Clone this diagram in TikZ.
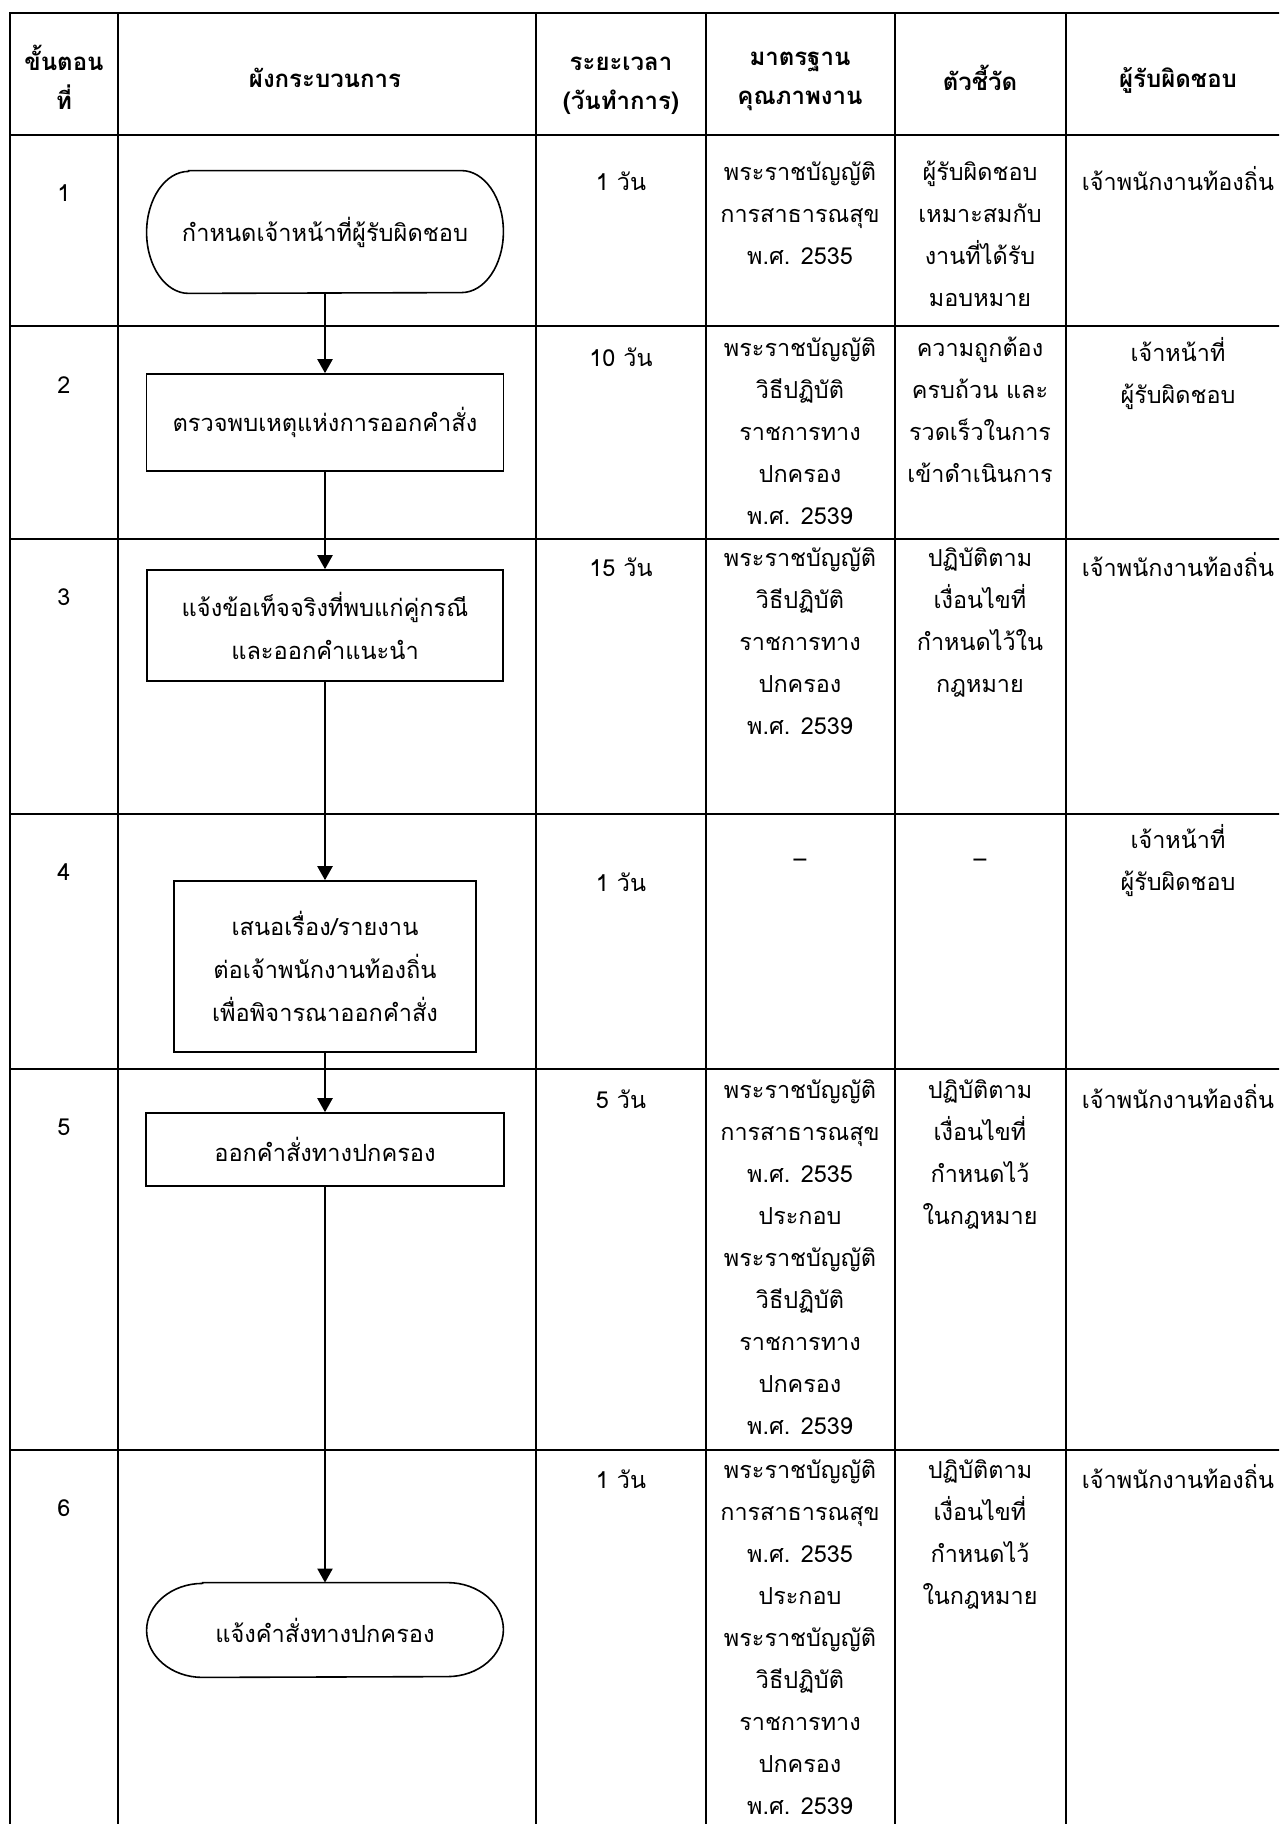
\documentclass[tikz,border=0pt]{standalone}
\usepackage{fontspec}
\setmainfont[Script=Thai]{Loma}
\usetikzlibrary{arrows.meta}

\newcommand{\cellfont}{\fontsize{11.7}{21}\selectfont}
\newcommand{\headfont}{\fontsize{12}{19.5}\selectfont\bfseries}
\newcommand{\boxfont}{\fontsize{11.8}{21.5}\selectfont}

\begin{document}
\begin{tikzpicture}[x=0.5pt,y=-0.5pt,
    grid/.style={line width=1pt},
    head/.style={align=center,inner sep=0pt,font=\headfont},
    cell/.style={anchor=north,align=center,inner sep=0pt,font=\cellfont,execute at begin node=\strut},
    num/.style={inner sep=0pt,font=\cellfont},
    stepbox/.style={draw,line width=0.8pt,inner sep=0pt,align=center,font=\boxfont},
    terminal/.style={inner sep=0pt,align=center,font=\boxfont},
    outline/.style={line width=0.8pt},
    flow/.style={line width=1.1pt,-{Triangle[length=7pt,width=7.5pt]}}]

    % 枠
    \useasboundingbox (0,0) rectangle (1279,1824);
    \clip (0,0) rectangle (1279,1824);

    % パラメータの定義
    \pgfmathsetmacro{\cA}{64}
    \pgfmathsetmacro{\cB}{325}
    \pgfmathsetmacro{\cC}{621}
    \pgfmathsetmacro{\cD}{800}
    \pgfmathsetmacro{\cE}{980}
    \pgfmathsetmacro{\cF}{1178}

    % 表の罫線
    \draw [grid] (10,13) rectangle (1290,1830);
    \foreach \x in {118,536,706,895,1066}
        \draw [grid] (\x,13) -- (\x,1830);
    \foreach \y in {135,326,539,814,1069,1450}
        \draw [grid] (10,\y) -- (1290,\y);

    % 見出し
    \node [head] (h1) at (\cA,77.5) {ขั้นตอน\\ที่};
    \node [head] (h2) at (\cB,78) {ผังกระบวนการ};
    \node [head] (h3) at (\cC,86) {ระยะเวลา\\(วันทำการ)};
    \node [head] (h4) at (\cD,81.5) {มาตรฐาน\\คุณภาพงาน};
    \node [head] (h5) at (\cE,78) {ตัวชี้วัด};
    \node [head] (h6) at (\cF,80) {ผู้รับผิดชอบ};

    % 番号
    \foreach \n/\y in {1/193,2/385,3/597,4/872,5/1127,6/1508}
        \node [num] (n\n) at (\cA,\y) {\n};

    % 1
    \node [cell] (r1c) at (\cC,161) {1 วัน};
    \node [cell] (r1d) at (\cD,161) {พระราชบัญญัติ\\การสาธารณสุข\\พ.ศ. 2535};
    \node [cell] (r1e) at (\cE,161) {ผู้รับผิดชอบ\\เหมาะสมกับ\\งานที่ได้รับ\\มอบหมาย};
    \node [cell] (r1f) at (\cF,161) {เจ้าพนักงานท้องถิ่น};

    % 2
    \node [cell] (r2c) at (\cC,337) {10 วัน};
    \node [cell] (r2d) at (\cD,337) {พระราชบัญญัติ\\วิธีปฏิบัติ\\ราชการทาง\\ปกครอง\\พ.ศ. 2539};
    \node [cell] (r2e) at (\cE,337) {ความถูกต้อง\\ครบถ้วน และ\\รวดเร็วในการ\\เข้าดำเนินการ};
    \node [cell] (r2f) at (\cF,337) {เจ้าหน้าที่\\ผู้รับผิดชอบ};

    % 3
    \node [cell] (r3c) at (\cC,547) {15 วัน};
    \node [cell] (r3d) at (\cD,547) {พระราชบัญญัติ\\วิธีปฏิบัติ\\ราชการทาง\\ปกครอง\\พ.ศ. 2539};
    \node [cell] (r3e) at (\cE,547) {ปฏิบัติตาม\\เงื่อนไขที่\\กำหนดไว้ใน\\กฎหมาย};
    \node [cell] (r3f) at (\cF,547) {เจ้าพนักงานท้องถิ่น};

    % 4
    \node [cell] (r4c) at (\cC,862) {1 วัน};
    \node [num] (r4d) at (\cD,863) {–};
    \node [num] (r4e) at (\cE,863) {–};
    \node [cell] (r4f) at (\cF,824) {เจ้าหน้าที่\\ผู้รับผิดชอบ};

    % 5
    \node [cell] (r5c) at (\cC,1079) {5 วัน};
    \node [cell] (r5d) at (\cD,1079) {พระราชบัญญัติ\\การสาธารณสุข\\พ.ศ. 2535\\ประกอบ\\พระราชบัญญัติ\\วิธีปฏิบัติ\\ราชการทาง\\ปกครอง\\พ.ศ. 2539};
    \node [cell] (r5e) at (\cE,1079) {ปฏิบัติตาม\\เงื่อนไขที่\\กำหนดไว้\\ในกฎหมาย};
    \node [cell] (r5f) at (\cF,1079) {เจ้าพนักงานท้องถิ่น};

    % 6
    \node [cell] (r6c) at (\cC,1459) {1 วัน};
    \node [cell] (r6d) at (\cD,1459) {พระราชบัญญัติ\\การสาธารณสุข\\พ.ศ. 2535\\ประกอบ\\พระราชบัญญัติ\\วิธีปฏิบัติ\\ราชการทาง\\ปกครอง\\พ.ศ. 2539};
    \node [cell] (r6e) at (\cE,1459) {ปฏิบัติตาม\\เงื่อนไขที่\\กำหนดไว้\\ในกฎหมาย};
    \node [cell] (r6f) at (\cF,1459) {เจ้าพนักงานท้องถิ่น};

    % 流れ図
    \node [terminal, minimum width=178pt, minimum height=61pt] (t1) at (\cB,232) {กำหนดเจ้าหน้าที่ผู้รับผิดชอบ};
    \draw [outline] ([xshift=21pt]t1.north west) -- ([xshift=-21pt]t1.north east)
        arc [start angle=90, end angle=-90, x radius=21pt, y radius=30.5pt]
        -- ([xshift=21pt]t1.south west)
        arc [start angle=270, end angle=90, x radius=21pt, y radius=30.5pt] -- cycle;
    \node [stepbox, minimum width=178.5pt, minimum height=48.5pt] (b2) at (\cB,422.5) {ตรวจพบเหตุแห่งการออกคำสั่ง};
    \node [stepbox, minimum width=178pt, minimum height=55.5pt] (b3) at (\cB,625.5) {แจ้งข้อเท็จจริงที่พบแก่คู่กรณี\\และออกคำแนะนำ};
    \node [stepbox, minimum width=151pt, minimum height=85.5pt] (b4) at (\cB,966.5) {เสนอเรื่อง/รายงาน\\ต่อเจ้าพนักงานท้องถิ่น\\เพื่อพิจารณาออกคำสั่ง};
    \node [stepbox, minimum width=179pt, minimum height=36.5pt] (b5) at (\cB,1149.5) {ออกคำสั่งทางปกครอง};
    \node [terminal, minimum width=178pt, minimum height=47pt] (t6) at (\cB,1630) {แจ้งคำสั่งทางปกครอง};
    \draw [outline] ([xshift=28pt]t6.north west) -- ([xshift=-28pt]t6.north east)
        arc [start angle=90, end angle=-90, x radius=28pt, y radius=23.5pt]
        -- ([xshift=28pt]t6.south west)
        arc [start angle=270, end angle=90, x radius=28pt, y radius=23.5pt] -- cycle;

    % 矢印
    \draw [flow] (t1.south) -- (b2.north);
    \draw [flow] (b2.south) -- (b3.north);
    \draw [flow] (b3.south) -- (b4.north);
    \draw [flow] (b4.south) -- (b5.north);
    \draw [flow] (b5.south) -- (t6.north);

\end{tikzpicture}
\end{document}
